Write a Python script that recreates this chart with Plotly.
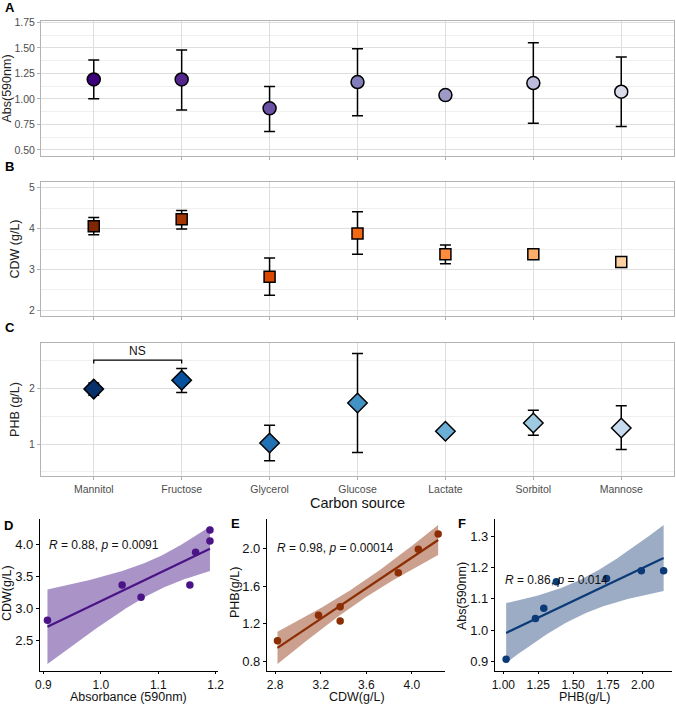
import numpy as np
import plotly.graph_objects as go

W, H = 676, 704
FONT = "Liberation Sans, Arial, sans-serif"

carbon = ["Mannitol", "Fructose", "Glycerol", "Glucose", "Lactate", "Sorbitol", "Mannose"]

abs_mean = [1.19, 1.19, 0.907, 1.165, 1.037, 1.155, 1.07]
abs_hi   = [1.38, 1.48, 1.12, 1.49, None, 1.55, 1.41]
abs_lo   = [1.00, 0.89, 0.68, 0.834, None, 0.76, 0.73]

cdw_mean = [4.056, 4.23, 2.82, 3.88, 3.37, 3.37, 3.18]
cdw_hi   = [4.27, 4.44, 3.28, 4.41, 3.60, None, None]
cdw_lo   = [3.85, 3.99, 2.37, 3.37, 3.14, None, None]

phb_mean = [1.99, 2.15, 1.02, 1.74, 1.23, 1.38, 1.29]
phb_hi   = [2.10, 2.36, 1.34, 2.63, None, 1.61, 1.69]
phb_lo   = [1.88, 1.93, 0.70, 0.85, None, 1.16, 0.90]

purples = ["#3f007d", "#54278f", "#6a51a3", "#807dba", "#9e9ac8", "#bcbddc", "#dadaeb"]
oranges = ["#7f2704", "#a63603", "#d94801", "#f16913", "#fd8d3c", "#fdae6b", "#fdd0a2"]
blues   = ["#08306b", "#08519c", "#2171b5", "#4292c6", "#6baed6", "#9ecae1", "#c6dbef"]

corr_labels = ["<i>R</i> = 0.88, <i>p</i> = 0.0091",
               "<i>R</i> = 0.98, <i>p</i> = 0.00014",
               "<i>R</i> = 0.86, <i>p</i> = 0.014"]


def fx(px):
    return px / W


def fy(py):
    return 1 - py / H


def errs(mean, hi, lo):
    up = [np.nan if h is None else h - m for m, h in zip(mean, hi)]
    dn = [np.nan if l is None else m - l for m, l in zip(mean, lo)]
    return up, dn


fig = go.Figure()

top_specs = [
    ("x", "y", abs_mean, abs_hi, abs_lo, purples, "circle", 13),
    ("x2", "y2", cdw_mean, cdw_hi, cdw_lo, oranges, "square", 11),
    ("x3", "y3", phb_mean, phb_hi, phb_lo, blues, "diamond", 15),
]
for xa, ya, m, hi, lo, cols, sym, sz in top_specs:
    up, dn = errs(m, hi, lo)
    fig.add_trace(go.Scatter(
        x=carbon, y=m, xaxis=xa, yaxis=ya, mode="markers",
        marker=dict(color=cols, symbol=sym, size=sz, line=dict(color="black", width=1.5)),
        error_y=dict(type="data", symmetric=False, array=up, arrayminus=dn,
                     color="black", thickness=1.5, width=5.5),
        showlegend=False, hoverinfo="skip"))

# NS bracket
fig.add_trace(go.Scatter(x=[carbon[0], carbon[0], carbon[1], carbon[1]],
                         y=[2.45, 2.51, 2.51, 2.45], xaxis="x3", yaxis="y3",
                         mode="lines", line=dict(color="black", width=1.3),
                         showlegend=False, hoverinfo="skip"))

# Correlation panels
T975 = 2.5706  # t quantile, df = 5
bottom_specs = [
    ("x4", "y4", abs_mean, cdw_mean, "#4a1486", "rgba(84,39,143,0.5)"),
    ("x5", "y5", cdw_mean, phb_mean, "#8c2d04", "rgba(140,45,4,0.45)"),
    ("x6", "y6", phb_mean, abs_mean, "#0b3a78", "rgba(8,48,107,0.4)"),
]
for xa, ya, xs, ys, col, fill in bottom_specs:
    xv = np.array(xs, float)
    yv = np.array(ys, float)
    n = len(xv)
    b1, b0 = np.polyfit(xv, yv, 1)
    res = yv - (b0 + b1 * xv)
    s = np.sqrt(np.sum(res ** 2) / (n - 2))
    sxx = np.sum((xv - xv.mean()) ** 2)
    xg = np.linspace(xv.min(), xv.max(), 80)
    yg = b0 + b1 * xg
    se = s * np.sqrt(1 / n + (xg - xv.mean()) ** 2 / sxx)
    fig.add_trace(go.Scatter(x=np.concatenate([xg, xg[::-1]]),
                             y=np.concatenate([yg + T975 * se, (yg - T975 * se)[::-1]]),
                             xaxis=xa, yaxis=ya, mode="lines", fill="toself",
                             fillcolor=fill, line=dict(width=0), showlegend=False,
                             hoverinfo="skip"))
    fig.add_trace(go.Scatter(x=xg, y=yg, xaxis=xa, yaxis=ya, mode="lines",
                             line=dict(color=col, width=2.2), showlegend=False,
                             hoverinfo="skip"))
    fig.add_trace(go.Scatter(x=xv, y=yv, xaxis=xa, yaxis=ya, mode="markers",
                             marker=dict(color=col, size=7.5), showlegend=False,
                             hoverinfo="skip"))

grid_c = "#dedede"
border_c = "#b3b3b3"
tick_font = dict(family=FONT, size=10.5, color="#4d4d4d")


def top_x(anchor, show_labels):
    return dict(domain=[fx(41), fx(674)], anchor=anchor, type="category",
                range=[-0.6, 6.6], showgrid=True, gridcolor=grid_c, gridwidth=1,
                showline=True, mirror=True, linecolor=border_c, linewidth=1,
                ticks="outside", ticklen=3, tickcolor=border_c, automargin=False,
                showticklabels=show_labels, tickfont=tick_font, zeroline=False)


def top_y(dom, anchor, rng, tickvals, ticktext, title, minor_dtick):
    return dict(domain=dom, anchor=anchor, range=rng, tickvals=tickvals, ticktext=ticktext,
                showgrid=True, gridcolor=grid_c, gridwidth=1, automargin=False,
                minor=dict(showgrid=True, gridcolor="#efefef", gridwidth=1,
                           dtick=minor_dtick, tick0=0),
                showline=True, mirror=True, linecolor=border_c, linewidth=1,
                ticks="outside", ticklen=3, tickcolor=border_c, zeroline=False,
                tickfont=tick_font,
                title=dict(text=title, font=dict(family=FONT, size=12.5, color="#222"),
                           standoff=6))


def bot_axis(dom, anchor, rng, dtick, tickformat, is_x):
    d = dict(domain=dom, anchor=anchor, range=rng, dtick=dtick, tick0=0,
             tickformat=tickformat, showgrid=False, zeroline=False, automargin=False,
             showline=True, linecolor="black", linewidth=1.2,
             ticks="outside", ticklen=2 if is_x else 3, tickcolor="black", tickwidth=1.2,
             tickfont=dict(family=FONT, size=12 if is_x else 13, color="#111"))
    return d


layout = dict(
    width=W, height=H, margin=dict(l=0, r=0, t=0, b=0, autoexpand=False),
    paper_bgcolor="white", plot_bgcolor="white",
    font=dict(family=FONT),
    xaxis=top_x("y", False),
    xaxis2=top_x("y2", False),
    xaxis3=top_x("y3", True),
    yaxis=top_y([fy(156), fy(21)], "x", [0.44, 1.763],
                [0.5, 0.75, 1.0, 1.25, 1.5, 1.75],
                ["0.50", "0.75", "1.00", "1.25", "1.50", "1.75"], "Abs(590nm)", 0.125),
    yaxis2=top_y([fy(316), fy(182)], "x2", [1.86, 5.14], [2, 3, 4, 5],
                 ["2", "3", "4", "5"], "CDW (g/L)", 0.5),
    yaxis3=top_y([fy(476), fy(343)], "x3", [0.425, 2.82], [1, 2],
                 ["1", "2"], "PHB (g/L)", 0.5),
    xaxis4=bot_axis([fx(40), fx(218)], "y4", [0.894, 1.204], 0.1, ".1f", True),
    yaxis4=bot_axis([fy(671), fy(519)], "x4", [2.03, 4.40], 0.5, ".1f", False),
    xaxis5=bot_axis([fx(267), fx(445)], "y5", [2.728, 4.29], 0.4, ".1f", True),
    yaxis5=bot_axis([fy(671), fy(519)], "x5", [0.70, 2.31], 0.4, ".1f", False),
    xaxis6=bot_axis([fx(495), fx(672)], "y6", [0.94, 2.21], 0.25, ".2f", True),
    yaxis6=bot_axis([fy(671), fy(519)], "x6", [0.869, 1.356], 0.1, ".1f", False),
)
layout["xaxis3"]["title"] = dict(text="Carbon source",
                                 font=dict(family=FONT, size=14.5, color="#111"), standoff=2)
fig.update_layout(**layout)

anns = []
for lab, px, py in [("A", 3, 8), ("B", 3, 166), ("C", 3, 328),
                    ("D", 2, 525), ("E", 229, 523), ("F", 456, 523)]:
    anns.append(dict(text=f"<b>{lab}</b>", x=fx(px), y=fy(py), xref="paper", yref="paper",
                     xanchor="left", yanchor="middle", showarrow=False,
                     font=dict(family=FONT, size=13, color="black")))

# bottom-panel axis titles
for txt, px, py, ang in [("Absorbance (590nm)", 128.5, 696.5, 0),
                         ("CDW(g/L)", 7, 593, -90),
                         ("CDW(g/L)", 357, 696.5, 0),
                         ("PHB(g/L)", 235, 593, -90),
                         ("PHB(g/L)", 584, 696.5, 0),
                         ("Abs(590nm)", 462, 596, -90)]:
    anns.append(dict(text=txt, x=fx(px), y=fy(py), xref="paper", yref="paper",
                     xanchor="center", yanchor="middle", textangle=ang, showarrow=False,
                     borderpad=0, font=dict(family=FONT, size=12.5, color="#111")))

anns.append(dict(text="NS", x=0.5, y=2.51, xref="x3", yref="y3", yanchor="bottom",
                 showarrow=False, font=dict(family=FONT, size=12, color="#111")))
anns.append(dict(text=corr_labels[0], x=0.906, y=4.0, xref="x4", yref="y4", xanchor="left",
                 showarrow=False, font=dict(family=FONT, size=12, color="#111")))
anns.append(dict(text=corr_labels[1], x=2.80, y=2.0, xref="x5", yref="y5", xanchor="left",
                 showarrow=False, font=dict(family=FONT, size=12, color="#111")))
anns.append(dict(text=corr_labels[2], x=1.00, y=1.16, xref="x6", yref="y6", xanchor="left",
                 showarrow=False, font=dict(family=FONT, size=12, color="#111")))
fig.update_layout(annotations=anns)

fig.write_html("out.html", config={"displayModeBar": False},
               post_script="document.body.style.margin='0';")
